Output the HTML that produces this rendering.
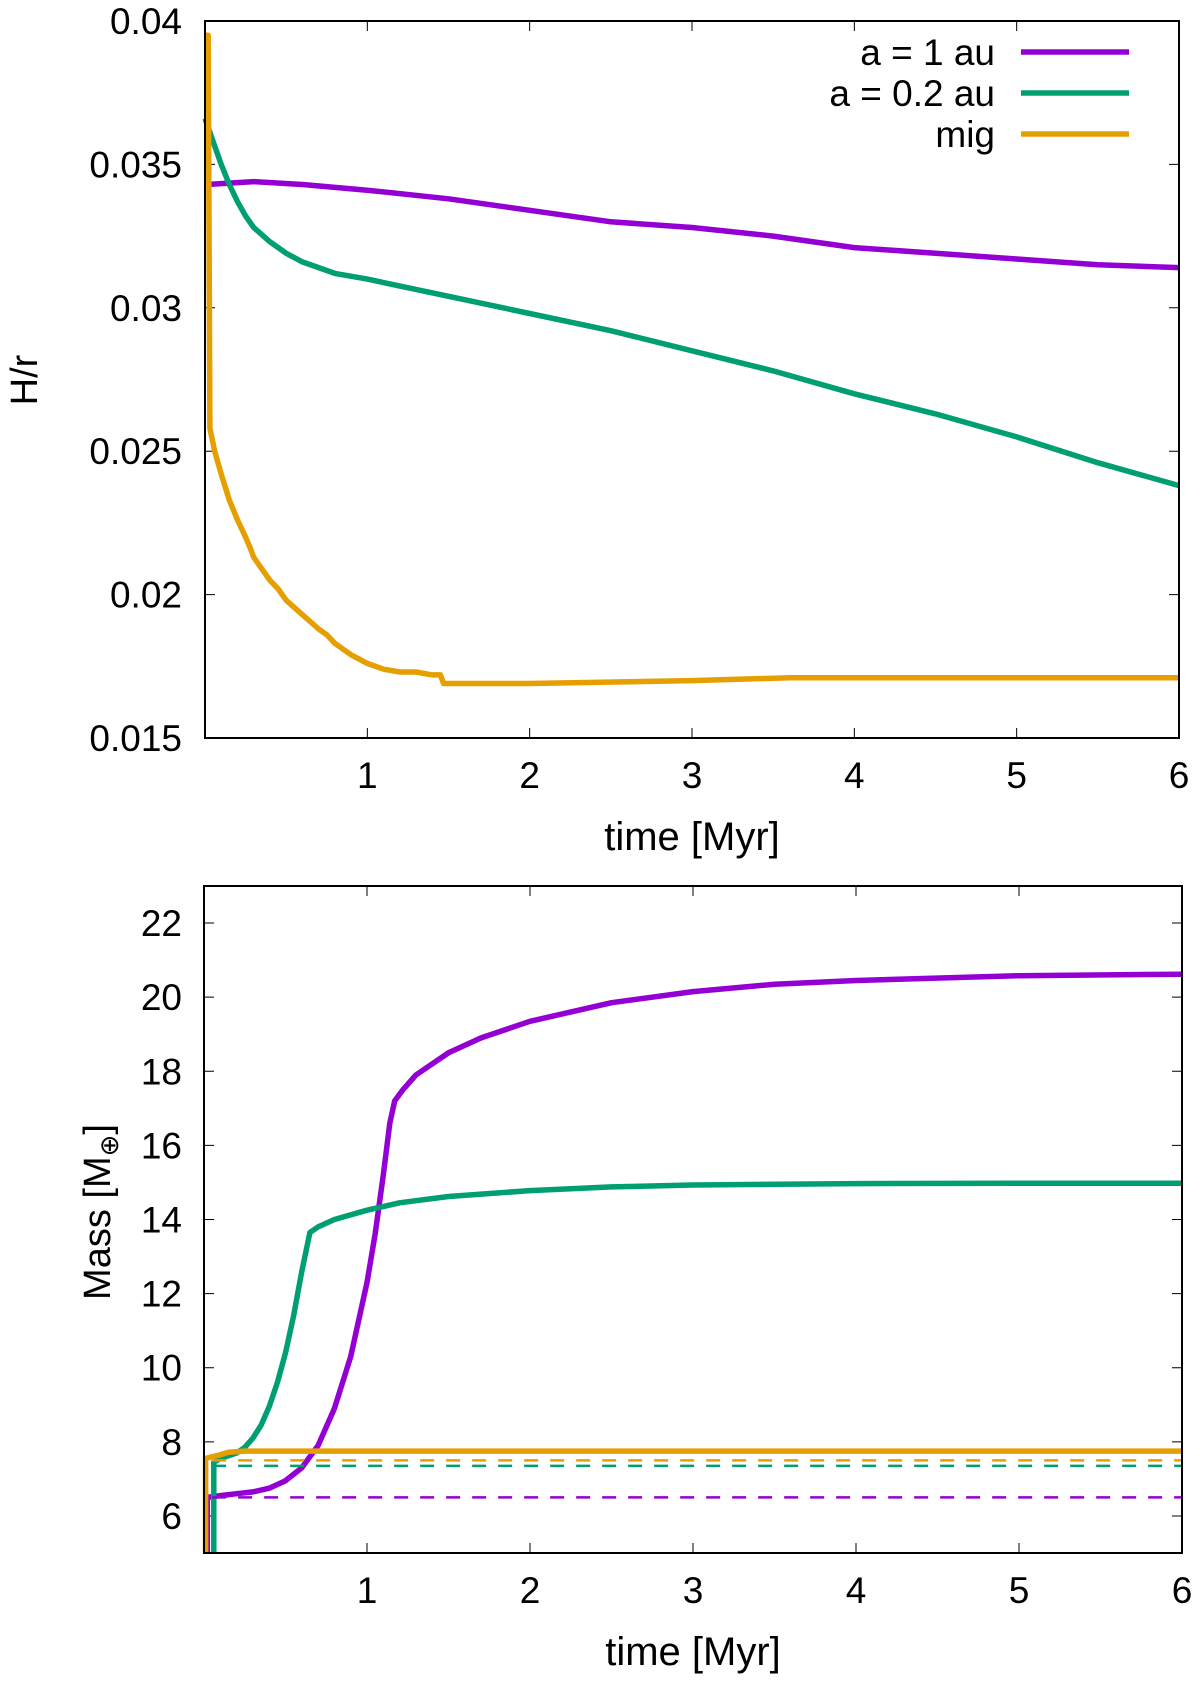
<!DOCTYPE html>
<html><head><meta charset="utf-8"><style>
html,body{margin:0;padding:0;background:#fff}
svg text{font-family:"Liberation Sans",sans-serif;fill:#000}
</style></head><body>
<svg id="fig" width="1200" height="1680" viewBox="0 0 1200 1680" xmlns="http://www.w3.org/2000/svg"></svg>
<script>
// ---- data ----
const xTicks = [1,2,3,4,5,6];
const hrTicks = [0.015,0.02,0.025,0.03,0.035,0.04];
const hrTickLabels = ["0.015","0.02","0.025","0.03","0.035","0.04"];
const massTicks = [6,8,10,12,14,16,18,20,22];
const seriesNames = ["a = 1 au","a = 0.2 au","mig"];
const seriesColors = ["#9400d3","#009e73","#e69f00"];

const hrT_a1 = [0.01,0.3,0.6,1.0,1.5,2.0,2.5,3.0,3.5,4.0,4.5,5.0,5.5,6.0];
const hrV_a1 = [0.0343,0.0344,0.0343,0.0341,0.0338,0.0334,0.0330,0.0328,0.0325,0.0321,0.0319,0.0317,0.0315,0.0314];
const hrT_a02 = [0.0,0.05,0.1,0.15,0.2,0.25,0.3,0.4,0.5,0.6,0.7,0.8,1.0,1.5,2.0,2.5,3.0,3.5,4.0,4.5,5.0,5.5,6.0];
const hrV_a02 = [0.0366,0.0358,0.0350,0.0343,0.0337,0.0332,0.0328,0.0323,0.0319,0.0316,0.0314,0.0312,0.0310,0.0304,0.0298,0.0292,0.0285,0.0278,0.0270,0.0263,0.0255,0.0246,0.0238];
const hrT_mig = [0.0,0.02,0.03,0.06,0.1,0.15,0.2,0.25,0.28,0.3,0.35,0.4,0.45,0.5,0.6,0.7,0.75,0.8,0.85,0.9,1.0,1.1,1.2,1.3,1.4,1.45,1.47,2.0,3.0,3.6,4.5,6.0];
const hrV_mig = [0.0395,0.0395,0.0258,0.0250,0.0242,0.0233,0.0226,0.0220,0.0216,0.0213,0.0209,0.0205,0.0202,0.0198,0.0193,0.0188,0.0186,0.0183,0.0181,0.0179,0.0176,0.0174,0.0173,0.0173,0.0172,0.0172,0.0169,0.0169,0.0170,0.0171,0.0171,0.0171];

const mT_a1 = [0.02,0.02,0.1,0.2,0.3,0.4,0.5,0.6,0.7,0.8,0.9,1.0,1.05,1.1,1.14,1.17,1.22,1.3,1.4,1.5,1.7,2.0,2.5,3.0,3.5,4.0,5.0,6.0];
const mV_a1 = [5.0,6.5,6.55,6.6,6.65,6.75,6.95,7.3,7.9,8.9,10.3,12.3,13.6,15.2,16.6,17.2,17.5,17.9,18.2,18.5,18.9,19.35,19.85,20.15,20.35,20.45,20.58,20.62];
const mT_a02 = [0.06,0.06,0.1,0.2,0.25,0.3,0.35,0.4,0.45,0.5,0.55,0.6,0.65,0.7,0.8,1.0,1.2,1.5,2.0,2.5,3.0,4.0,5.0,6.0];
const mV_a02 = [5.0,7.45,7.55,7.7,7.85,8.1,8.45,8.95,9.6,10.4,11.4,12.6,13.65,13.8,14.0,14.25,14.45,14.62,14.78,14.88,14.93,14.97,14.98,14.98];
const mT_mig = [0.01,0.01,0.05,0.1,0.15,0.25,0.4,1.0,6.0];
const mV_mig = [5.0,7.55,7.6,7.65,7.72,7.75,7.75,7.75,7.75];
const dashLevels = [6.5,7.35,7.5];
const dashStart = 0.05;

// ---- drawing ----
const NS="http://www.w3.org/2000/svg";
const svg=document.getElementById('fig');
function mk(tag,attrs,parent){const e=document.createElementNS(NS,tag);for(const k in attrs)e.setAttribute(k,attrs[k]);(parent||svg).appendChild(e);return e;}

function panel(p){
  const g=mk('g',{});
  
  
  const sx=t=>p.x0+(t-0)/(6-0)*(p.x1-p.x0);
  const sy=v=>p.y1-(v-p.ymin)/(p.ymax-p.ymin)*(p.y1-p.y0);
  xTicks.forEach(t=>{
    const X=sx(t);
    const tk=mk('path',{d:`M${X},${p.y1}v-10M${X},${p.y0}v10`,stroke:'#000','stroke-width':1},g);
    
    
    const tl=mk('text',{x:X,y:p.y1+50,'text-anchor':'middle','font-size':37},g);
    tl.textContent=t;
    
    
  });
  p.yticks.forEach((v,i)=>{
    const Y=sy(v);
    const tk=mk('path',{d:`M${p.x0},${Y}h10M${p.x1},${Y}h-10`,stroke:'#000','stroke-width':1},g);
    
    
    const tl=mk('text',{x:182,y:Y+13,'text-anchor':'end','font-size':37},g);
    tl.textContent=p.ylabels[i];
    
    
  });
  p.series.forEach((s,i)=>{
    const d=s.t.map((t,j)=>(j?'L':'M')+sx(t).toFixed(1)+','+sy(s.v[j]).toFixed(1)).join('');
    const l=mk('path',{d:d,fill:'none',stroke:seriesColors[i],'stroke-width':5.5,'stroke-linejoin':'round'},g);
    
    
  });
  if(p.dashes){
    p.dashes.forEach((lv,i)=>{
      const l=mk('line',{x1:sx(dashStart),x2:sx(6),y1:sy(lv),y2:sy(lv),stroke:seriesColors[i],'stroke-width':2.5,'stroke-dasharray':'14,12'},g);
      
      
    });
  }
  const fr=mk('rect',{x:p.x0,y:p.y0,width:p.x1-p.x0,height:p.y1-p.y0,fill:'none',stroke:'#000','stroke-width':2},g);
  
  
  const xt=mk('text',{x:(p.x0+p.x1)/2,y:p.y1+112,'text-anchor':'middle','font-size':40},g);
  xt.textContent='time [Myr]';
  
  
  return {g,sx,sy};
}

const topP=panel({name:'hr-panel',x0:205,x1:1179,y0:21,y1:738,ymin:0.015,ymax:0.04,yticks:hrTicks,ylabels:hrTickLabels,
  series:[{key:'a1',t:hrT_a1,v:hrV_a1},{key:'a02',t:hrT_a02,v:hrV_a02},{key:'mig',t:hrT_mig,v:hrV_mig}]});
const yt=mk('text',{x:0,y:0,'text-anchor':'middle','font-size':38,transform:'translate(37,380) rotate(-90)'},topP.g);
yt.textContent='H/r';


const lg=mk('g',{},topP.g);


seriesNames.forEach((n,i)=>{
  const Y=52+i*41;
  const t=mk('text',{x:995,y:Y+13,'text-anchor':'end','font-size':37},lg);
  t.textContent=n;
  
  
  const l=mk('line',{x1:1021,x2:1129,y1:Y,y2:Y,stroke:seriesColors[i],'stroke-width':5.5},lg);
  
  
});

const botP=panel({name:'mass-panel',x0:204,x1:1182,y0:886,y1:1553,ymin:5,ymax:23,yticks:massTicks,ylabels:massTicks.map(String),
  series:[{key:'a1',t:mT_a1,v:mV_a1},{key:'a02',t:mT_a02,v:mV_a02},{key:'mig',t:mT_mig,v:mV_mig}],dashes:dashLevels});
const my=mk('text',{x:0,y:0,'text-anchor':'middle','font-size':38,transform:'translate(110,1212) rotate(-90)'},botP.g);
my.innerHTML='Mass [M<tspan font-size="26" dy="8">⊕</tspan><tspan dy="-8">]</tspan>';


</script>
</body></html>
